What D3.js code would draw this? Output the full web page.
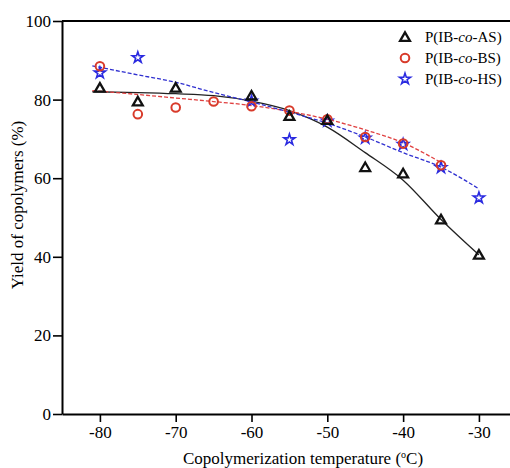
<!DOCTYPE html>
<html>
<head>
<meta charset="utf-8">
<script src="https://cdn.jsdelivr.net/npm/d3@7"></script>
<style>
  body { margin: 0; background: #fff; }
  text { font-family: "Liberation Serif", "DejaVu Serif", serif; }
</style>
</head>
<body>
<div id="chart"></div>
<script>
// measured points (temperature, yield %)
var temps = [-80, -75, -70, -65, -60, -55, -50, -45, -40, -35, -30];
var yieldAS = [83, 79.5, 83, null, 81, 75.8, 74.8, 62.8, 61.2, 49.5, 40.5];
var yieldBS = [88.5, 76.3, 78, 79.5, 78.3, 77.2, 75, 70.5, 68.8, 63.3, null];
var yieldHS = [86.8, 90.7, null, null, 79.6, 69.8, 74.5, 70.2, 68.6, 62.7, 55];

// fitted curves
var fitTemps = [-81, -75, -70, -65, -60, -55, -50, -45, -40, -35, -30];
var fitAS = [82, 81.8, 81.5, 81, 79.6, 77.2, 73, 66.5, 59.5, 49.5, 40.5];
var fitBS = [82.3, 81.3, 80.4, 79.5, 78.5, 77, 75, 72.3, 69, 64, null];
var fitHS = [88.6, 86.3, 84.4, 81.8, 79.4, 76.8, 74, 70.5, 66.5, 62.8, 57.3];

var xTicks = [-80, -70, -60, -50, -40, -30];
var yTicks = [0, 20, 40, 60, 80, 100];
var seriesNames = ["P(IB-", "co", "-AS)"];

var width = 510, height = 468;
var margin = {top: 21, right: 0, bottom: 54, left: 62};

var svg = d3.select("#chart")
  .append("svg")
    .attr("width", width)
    .attr("height", height);

var x = d3.scaleLinear()
  .domain([-85, -25.9])
  .range([margin.left, width - margin.right]);

var y = d3.scaleLinear()
  .domain([0, 100])
  .range([height - margin.bottom, margin.top]);

// top frame line
svg.append("line")
  .attr("x1", margin.left).attr("x2", width)
  .attr("y1", y(100)).attr("y2", y(100))
  .attr("stroke", "#000").attr("stroke-width", 2);

// X axis (plain hyphen for minus, like the original)
var xAxis = svg.append("g")
  .attr("transform", "translate(0," + y(0) + ")")
  .call(d3.axisBottom(x).tickValues(xTicks).tickFormat(function (d) { return String(d); })
    .tickSize(8).tickSizeOuter(0).tickPadding(4));
xAxis.select(".domain").attr("stroke-width", 2);
xAxis.selectAll(".tick line").attr("stroke-width", 1.6);
xAxis.selectAll("text").attr("font-size", 17).attr("fill", "#000");

// Y axis
var yAxis = svg.append("g")
  .attr("transform", "translate(" + margin.left + ",0)")
  .call(d3.axisLeft(y).tickValues(yTicks).tickSize(9).tickSizeOuter(0).tickPadding(2));
yAxis.select(".domain").attr("stroke-width", 2);
yAxis.selectAll(".tick line").attr("stroke-width", 1.6);
yAxis.selectAll("text").attr("font-size", 17).attr("fill", "#000");

// axis titles
var xt = svg.append("text")
  .attr("x", 303).attr("y", 464)
  .attr("text-anchor", "middle")
  .attr("font-size", 17);
xt.append("tspan").text("Copolymerization temperature (");
xt.append("tspan").attr("font-size", 10).attr("dy", -6).text("o");
xt.append("tspan").attr("dy", 6).text("C)");

svg.append("text")
  .attr("transform", "translate(23,205) rotate(-90)")
  .attr("text-anchor", "middle")
  .attr("font-size", 17)
  .text("Yield of copolymers (%)");

// fit lines
var fitLine = function (vals) {
  return d3.line()
    .defined(function (d, i) { return vals[i] != null; })
    .x(function (d) { return x(d); })
    .y(function (d, i) { return y(vals[i]); })
    .curve(d3.curveMonotoneX)(fitTemps);
};

svg.append("path")
  .attr("d", fitLine(fitAS))
  .attr("fill", "none").attr("stroke", "#222").attr("stroke-width", 1.3);
svg.append("path")
  .attr("d", fitLine(fitBS))
  .attr("fill", "none").attr("stroke", "#e04040").attr("stroke-width", 1.3)
  .attr("stroke-dasharray", "4,2");
svg.append("path")
  .attr("d", fitLine(fitHS))
  .attr("fill", "none").attr("stroke", "#3030d0").attr("stroke-width", 1.3)
  .attr("stroke-dasharray", "4,2");

// marker shapes
var triSym = d3.symbol().type(d3.symbolTriangle).size(42);
var starSym = d3.symbol().type(d3.symbolStar).size(38);

var pts = function (vals) {
  return temps.map(function (t, i) { return {t: t, v: vals[i]}; })
    .filter(function (d) { return d.v != null; });
};

svg.append("g").selectAll("path")
  .data(pts(yieldHS))
  .enter()
  .append("path")
    .attr("d", starSym)
    .attr("transform", function (d) { return "translate(" + x(d.t) + "," + y(d.v) + ")"; })
    .attr("fill", "none").attr("stroke", "#2a2ae0").attr("stroke-width", 1.6);

svg.append("g").selectAll("circle")
  .data(pts(yieldBS))
  .enter()
  .append("circle")
    .attr("cx", function (d) { return x(d.t); })
    .attr("cy", function (d) { return y(d.v); })
    .attr("r", 4.3)
    .attr("fill", "none").attr("stroke", "#d83a2a").attr("stroke-width", 2);

svg.append("g").selectAll("path")
  .data(pts(yieldAS))
  .enter()
  .append("path")
    .attr("d", triSym)
    .attr("transform", function (d) { return "translate(" + x(d.t) + "," + (y(d.v) + 1) + ")"; })
    .attr("fill", "none").attr("stroke", "#111").attr("stroke-width", 2.3);

// legend
var legendItems = [
  {name: "AS", sym: "tri"},
  {name: "BS", sym: "circle"},
  {name: "HS", sym: "star"}
];
var leg = svg.append("g");
legendItems.forEach(function (item, i) {
  var ly = 37 + i * 21;
  if (item.sym === "tri") {
    leg.append("path").attr("d", triSym)
      .attr("transform", "translate(405," + (ly + 1) + ")")
      .attr("fill", "none").attr("stroke", "#111").attr("stroke-width", 2.3);
  } else if (item.sym === "circle") {
    leg.append("circle").attr("cx", 405).attr("cy", ly).attr("r", 4.3)
      .attr("fill", "none").attr("stroke", "#d83a2a").attr("stroke-width", 2);
  } else {
    leg.append("path").attr("d", starSym)
      .attr("transform", "translate(405," + ly + ")")
      .attr("fill", "none").attr("stroke", "#2a2ae0").attr("stroke-width", 1.6);
  }
  var t = leg.append("text").attr("x", 425).attr("y", ly + 5).attr("font-size", 15);
  t.append("tspan").text(seriesNames[0]);
  t.append("tspan").attr("font-style", "italic").text(seriesNames[1]);
  t.append("tspan").text("-" + item.name + ")");
});
</script>
</body>
</html>
